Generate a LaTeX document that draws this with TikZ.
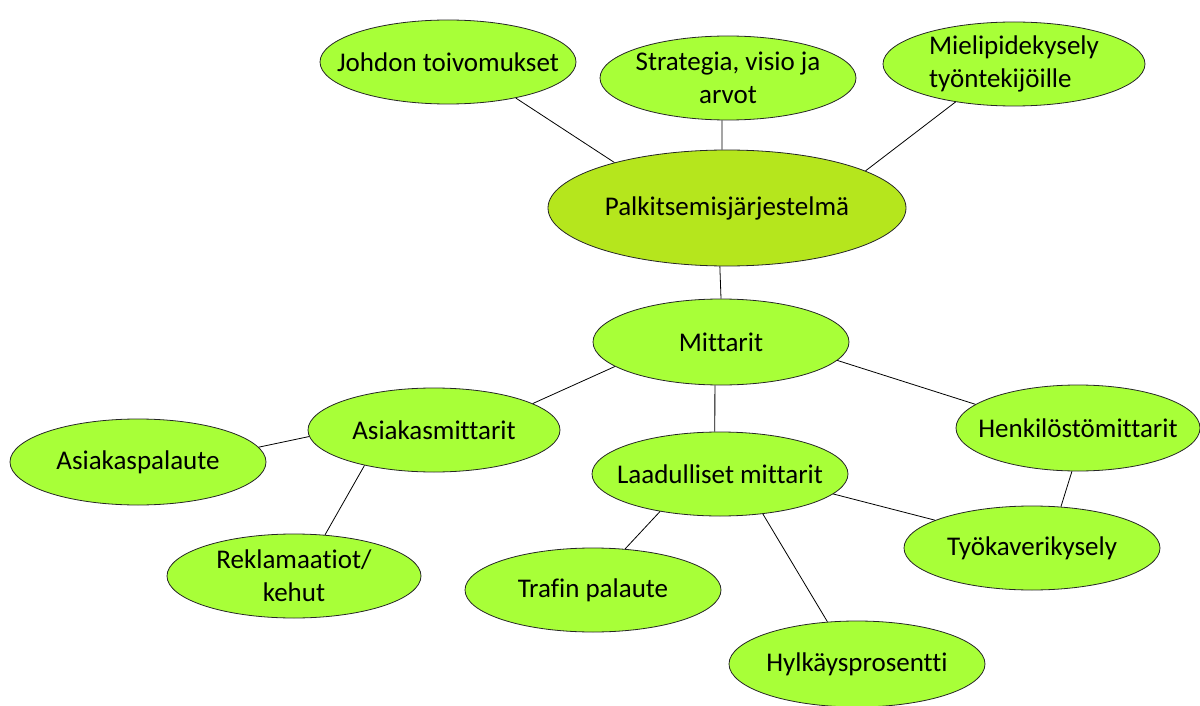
\documentclass[tikz,border=0pt]{standalone}
\usepackage{fontspec}
\setmainfont{Carlito}[Ligatures=NoCommon]
\usetikzlibrary{shapes.geometric}
\definecolor{vaalea}{RGB}{168,255,56}
\definecolor{keski}{RGB}{181,230,29}
\tikzset{mittari/.style={ellipse, draw=black!85, thin, fill=vaalea, minimum width=128pt, minimum height=42pt, inner xsep=-20pt, inner ysep=-6pt, align=center, font=\fontsize{13.5}{16.5}\selectfont},
  paamittari/.style={mittari, fill=keski, minimum width=179pt, minimum height=58pt}}

\begin{document}
\begin{tikzpicture}[x=0.5pt, y=-0.5pt]
            \useasboundingbox (0,0) rectangle (1200,706);
            \node[paamittari] (palkitsemis) at (727,208) {Palkitsemisjärjestelmä};
            \node[mittari] (johdon) at (448,62) {Johdon toivomukset};
            \node[mittari] (strategia) at (728,78) {Strategia, visio ja\\arvot};
            \node[mittari, minimum width=131pt, align=left] (mielipide) at (1014,64) {Mielipidekysely\\työntekijöille};
            \node[mittari, minimum height=43pt] (mittarit) at (721,342) {Mittarit};
            \node[mittari, minimum width=126pt] (asiakas) at (434,430) {Asiakasmittarit};
            \node[mittari, minimum height=43pt] (palaute) at (138,462) {Asiakaspalaute};
            \node[mittari, minimum width=127pt] (reklamaatiot) at (294,576) {Reklamaatiot/\\kehut};
            \node[mittari] (laadulliset) at (720,474) {Laadulliset mittarit};
            \node[mittari, minimum width=122pt, minimum height=43pt] (henkilosto) at (1078,428) {Henkilöstömittarit};
            \node[mittari] (tyokaveri) at (1032,548) {Työkaverikysely};
            \node[mittari] (trafi) at (593,590) {Trafin palaute};
            \node[mittari, minimum height=43pt] (hylkays) at (857,664) {Hylkäysprosentti};
            \draw (johdon.-28) edge (palkitsemis.158)
            (strategia.-98) edge (palkitsemis.95)
            (mielipide.-147) edge (palkitsemis.15)
            (palkitsemis.-97) edge (mittarit.90)
            (mittarit.-167) edge (asiakas.15)
            (mittarit.-9) edge (henkilosto.167)
            (mittarit.-98) edge (laadulliset.97)
            (asiakas.183) edge (palaute.7)
            (asiakas.-153) edge (reklamaatiot.53)
            (laadulliset.-148) edge (trafi.52)
            (laadulliset.-43) edge (hylkays.125)
            (laadulliset.-10) edge (tyokaveri.164)
            (henkilosto.-98) edge (tyokaveri.55);
      \end{tikzpicture}
\end{document}
